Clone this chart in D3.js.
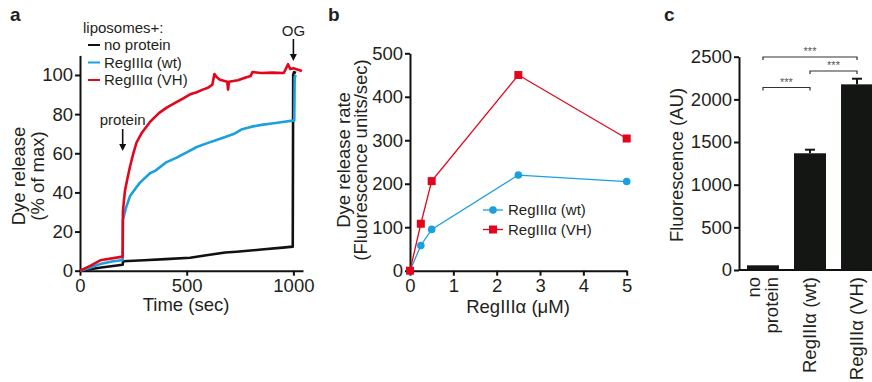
<!DOCTYPE html>
<html>
<head>
<meta charset="utf-8">
<script src="https://cdn.jsdelivr.net/npm/d3@7"></script>
<style>
  body { margin: 0; background: #fff; }
  svg text { font-family: "Liberation Sans", Arial, sans-serif; fill: #231f20; }
  .axis path, .axis line { stroke: #111; stroke-width: 2; }
  .axis text { font-size: 18.5px; }
</style>
</head>
<body>
<svg id="fig" width="872" height="382"></svg>
<script>
// ---------- Data ----------
// panel a: dye release traces, [time (sec), % of max]
const noProteinTrace = [[0,0],[100,1.6],[200,3],[202,4.8],[300,5.3],[400,5.9],[516,6.6],[600,8],[680,9.3],[734,9.7],[850,10.8],[950,11.8],[997,12.3],[999,100],[1003,101.5],[1012,101]];
const wtTrace = [[0,0],[50,1.6],[100,3.6],[150,4.7],[200,5.5],[201,26],[215,32],[234,38],[260,42],[281,45],[328,49.8],[352,51],[406,55.5],[453,57.8],[500,60.5],[547,63.2],[600,65.3],[640,66.8],[680,68.3],[720,69.8],[760,72.3],[805,73.6],[850,74.5],[900,75.2],[950,76],[1004,76.8],[1006,99],[1012,100]];
const vhTrace = [[0,0],[50,2.6],[95,5.3],[200,7.2],[201,30],[206,36],[211,41],[222,47],[234,53],[250,60],[265,65.5],[290,70.5],[328,76],[370,80.5],[406,83.3],[450,86],[484,88],[520,90.3],[547,91.2],[575,92.5],[600,93.5],[620,95],[630,100.5],[640,99],[656,97.5],[690,96.5],[694,92.5],[698,96.5],[740,97.3],[773,98.6],[800,99.5],[808,101.5],[850,101],[900,101.2],[955,101],[975,105.5],[985,103],[1000,103.4],[1040,102]];
const traceNames = ["no protein", "RegIII\u03b1 (wt)", "RegIII\u03b1 (VH)"];

// panel b: dye release rate vs concentration
const concUM = [0, 0.25, 0.5, 2.5, 5];
const rateWt = [0, 58, 95, 220, 205];
const rateVH = [0, 108, 206, 450, 304];

// panel c: fluorescence
const barLabels = [["no", "protein"], ["RegIII\u03b1 (wt)"], ["RegIII\u03b1 (VH)"]];
const barValues = [55, 1368, 2176];
const barErrors = [0, 42, 66];
const sigPairs = [[0, 2], [1, 2], [0, 1]];

// colours
const BLACK = "#111111";
const BLUE = "#1aa0dc";
const RED = "#e2061c";

const svg = d3.select("#fig");
const plain = d3.format("d");

function panelLetter(t, x, y) {
    svg.append("text").attr("x", x).attr("y", y)
        .style("font-size", "19px").style("font-weight", "bold").text(t);
}

function yTitle(lines, x0, cy, gap) {
    lines.forEach((l, i) => {
        svg.append("text")
            .attr("transform", `translate(${x0 + i * gap},${cy}) rotate(-90)`)
            .attr("text-anchor", "middle")
            .style("font-size", "18.5px")
            .text(l);
    });
}

function arrow(x, y1, y2) {
    svg.append("line").attr("x1", x).attr("x2", x).attr("y1", y1).attr("y2", y2 - 5)
        .attr("stroke", "#111").attr("stroke-width", 1.6);
    svg.append("path")
        .attr("d", `M${x - 3.5},${y2 - 7} L${x + 3.5},${y2 - 7} L${x},${y2} Z`)
        .attr("fill", "#111");
}

////////// Panel a //////////
panelLetter("a", 10, 21);
const xa = d3.scaleLinear().domain([0, 1045]).range([80, 303]);
const ya = d3.scaleLinear().domain([0, 110]).range([270.7, 55.4]);

svg.append("g").attr("class", "axis")
    .attr("transform", "translate(0,270.7)")
    .call(d3.axisBottom(xa).tickValues([0, 500, 1000]).tickFormat(plain).tickSize(5).tickSizeOuter(0).tickPadding(3));
svg.append("g").attr("class", "axis")
    .attr("transform", "translate(80,0)")
    .call(d3.axisLeft(ya).tickValues([0, 20, 40, 60, 80, 100]).tickSize(5).tickSizeOuter(0).tickPadding(2));

const lineA = d3.line().x(d => xa(d[0])).y(d => ya(d[1]));
[[noProteinTrace, BLACK], [wtTrace, BLUE], [vhTrace, RED]].forEach(([tr, c]) => {
    svg.append("path").datum(tr)
        .attr("d", lineA).attr("fill", "none")
        .attr("stroke", c).attr("stroke-width", 2.6)
        .attr("stroke-linejoin", "round");
});

svg.append("text").attr("x", 186).attr("y", 311).attr("text-anchor", "middle")
    .style("font-size", "18.5px").text("Time (sec)");
yTitle(["Dye release", "(% of max)"], 25, 176, 19);

// legend a
svg.append("text").attr("x", 83).attr("y", 33).style("font-size", "15px").text("liposomes+:");
[BLACK, BLUE, RED].forEach((c, i) => {
    const yy = 45 + i * 17.5;
    svg.append("line").attr("x1", 88).attr("x2", 100).attr("y1", yy).attr("y2", yy)
        .attr("stroke", c).attr("stroke-width", 2);
    svg.append("text").attr("x", 104).attr("y", yy + 5).style("font-size", "15px").text(traceNames[i]);
});

// annotations
svg.append("text").attr("x", xa(200)).attr("y", 125).attr("text-anchor", "middle")
    .style("font-size", "15px").text("protein");
arrow(xa(200), 129, 151);
svg.append("text").attr("x", xa(1000)).attr("y", 36).attr("text-anchor", "middle")
    .style("font-size", "15px").text("OG");
arrow(xa(1000), 39, 61);

////////// Panel b //////////
panelLetter("b", 328, 21);
const xb = d3.scaleLinear().domain([0, 5]).range([410, 626.7]);
const yb = d3.scaleLinear().domain([0, 500]).range([270.7, 53.3]);

svg.append("g").attr("class", "axis")
    .attr("transform", "translate(0,270.7)")
    .call(d3.axisBottom(xb).ticks(5).tickSize(5).tickSizeOuter(0).tickPadding(3));
svg.append("g").attr("class", "axis")
    .attr("transform", "translate(410,0)")
    .call(d3.axisLeft(yb).ticks(5).tickSize(5).tickSizeOuter(0).tickPadding(2));

const lineB = vals => d3.line().x((d, i) => xb(concUM[i])).y(d => yb(d))(vals);
svg.append("path").attr("d", lineB(rateWt)).attr("fill", "none").attr("stroke", BLUE).attr("stroke-width", 1.3);
svg.append("path").attr("d", lineB(rateVH)).attr("fill", "none").attr("stroke", RED).attr("stroke-width", 1.3);
svg.selectAll(".ptWt").data(rateWt).enter().append("circle")
    .attr("cx", (d, i) => xb(concUM[i])).attr("cy", d => yb(d)).attr("r", 3.8).attr("fill", BLUE);
svg.selectAll(".ptVH").data(rateVH).enter().append("rect")
    .attr("x", (d, i) => xb(concUM[i]) - 4).attr("y", d => yb(d) - 4)
    .attr("width", 8).attr("height", 8).attr("fill", RED);

svg.append("text").attr("x", 518).attr("y", 313).attr("text-anchor", "middle")
    .style("font-size", "18.5px").text("RegIII\u03b1 (\u03bcM)");
yTitle(["Dye release rate", "(Fluorescence units/sec)"], 350, 160, 17);

// legend b
[[BLUE, "circle", traceNames[1]], [RED, "square", traceNames[2]]].forEach(([c, shape, label], i) => {
    const yy = 210 + i * 19.5;
    svg.append("line").attr("x1", 483).attr("x2", 503).attr("y1", yy).attr("y2", yy)
        .attr("stroke", c).attr("stroke-width", 1.3);
    if (shape === "circle") {
        svg.append("circle").attr("cx", 493).attr("cy", yy).attr("r", 3.8).attr("fill", c);
    } else {
        svg.append("rect").attr("x", 489).attr("y", yy - 4).attr("width", 8).attr("height", 8).attr("fill", c);
    }
    svg.append("text").attr("x", 508).attr("y", yy + 5).style("font-size", "15px").text(label);
});

////////// Panel c //////////
panelLetter("c", 664, 21);
const xc = d3.scaleBand().domain(d3.range(barValues.length)).range([739, 881])
    .paddingInner(0.32).paddingOuter(0.17);
const yc = d3.scaleLinear().domain([0, 2500]).range([270, 56.7]);

svg.append("g").attr("class", "axis")
    .attr("transform", "translate(739,0)")
    .call(d3.axisLeft(yc).ticks(5).tickFormat(plain).tickSize(5).tickSizeOuter(0).tickPadding(2));

svg.selectAll(".bar").data(barValues).enter().append("rect")
    .attr("x", (d, i) => xc(i)).attr("width", xc.bandwidth())
    .attr("y", d => yc(d)).attr("height", d => yc(0) - yc(d))
    .attr("fill", "#141614");

barValues.forEach((v, i) => {
    if (!barErrors[i]) return;
    const cx = xc(i) + xc.bandwidth() / 2;
    svg.append("line").attr("x1", cx).attr("x2", cx).attr("y1", yc(v)).attr("y2", yc(v + barErrors[i]))
        .attr("stroke", "#141614").attr("stroke-width", 2);
    svg.append("line").attr("x1", cx - 5).attr("x2", cx + 5)
        .attr("y1", yc(v + barErrors[i])).attr("y2", yc(v + barErrors[i]))
        .attr("stroke", "#141614").attr("stroke-width", 2);
});

svg.append("line").attr("x1", 739).attr("x2", 881).attr("y1", 270).attr("y2", 270)
    .attr("stroke", "#111").attr("stroke-width", 2);

// significance brackets
const sigY = [57, 71, 87.5];
sigPairs.forEach(([a, b], k) => {
    const x1 = xc(a) + xc.bandwidth() / 2, x2 = xc(b) + xc.bandwidth() / 2, y = sigY[k];
    svg.append("path").attr("d", `M${x1},${y + 3} V${y} H${x2} V${y + 3}`)
        .attr("fill", "none").attr("stroke", "#333").attr("stroke-width", 1.2);
    svg.append("text").attr("x", (x1 + x2) / 2).attr("y", y - 2).attr("text-anchor", "middle")
        .style("font-size", "11px").style("fill", "#555").text("***");
});

// rotated category labels
barLabels.forEach((lines, i) => {
    const cx = xc(i) + xc.bandwidth() / 2;
    const n = lines.length;
    lines.forEach((l, j) => {
        const bx = cx + 6 + (j - (n - 1) / 2) * 18;
        svg.append("text")
            .attr("transform", `translate(${bx},277) rotate(-90)`)
            .attr("text-anchor", "end")
            .style("font-size", "18.5px")
            .text(l);
    });
});

yTitle(["Fluorescence (AU)"], 683, 165, 0);
</script>
</body>
</html>
